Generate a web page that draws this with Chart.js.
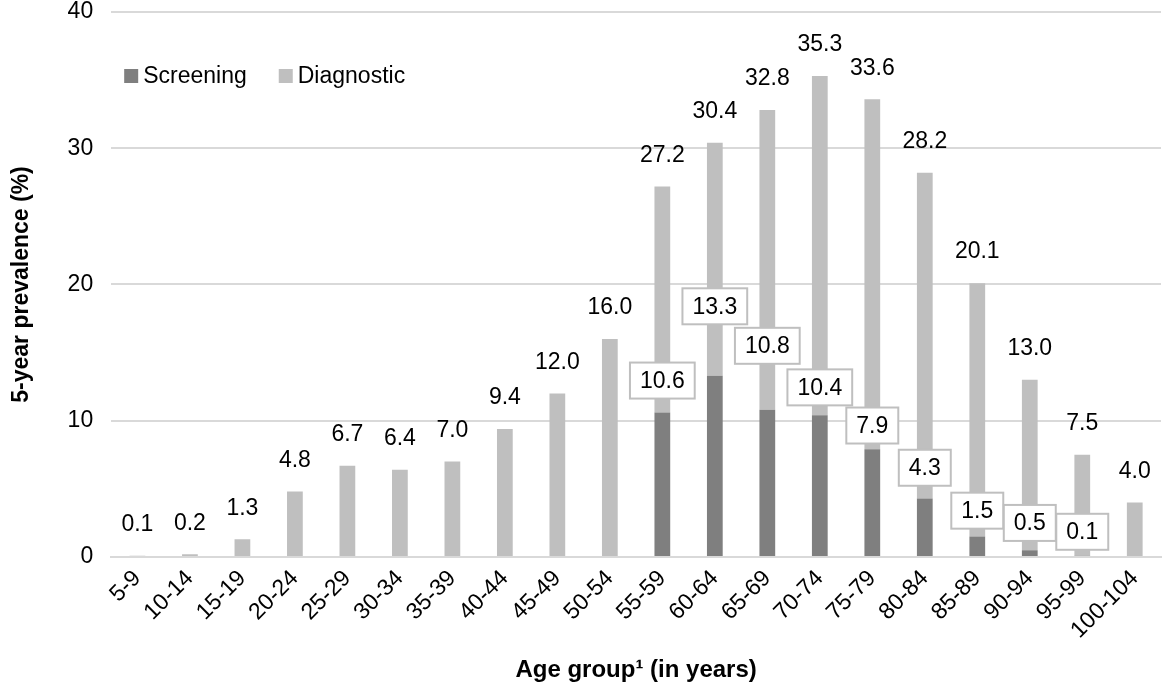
<!DOCTYPE html>
<html>
<head>
<meta charset="utf-8">
<script src="https://cdn.jsdelivr.net/npm/chart.js@4"></script>
<style>
  html, body { margin: 0; padding: 0; background: #fff; }
  #wrap { width: 1164px; height: 685px; }
</style>
</head>
<body>
<div id="wrap"><canvas id="chart" width="1164" height="685"></canvas></div>
<script>
const ageGroups = ["5-9", "10-14", "15-19", "20-24", "25-29", "30-34", "35-39", "40-44", "45-49", "50-54",
  "55-59", "60-64", "65-69", "70-74", "75-79", "80-84", "85-89", "90-94", "95-99", "100-104"];
const totalPrevalence = [0.1, 0.2, 1.3, 4.8, 6.7, 6.4, 7.0, 9.4, 12.0, 16.0,
  27.2, 30.4, 32.8, 35.3, 33.6, 28.2, 20.1, 13.0, 7.5, 4.0];
const screening = [0, 0, 0, 0, 0, 0, 0, 0, 0, 0,
  10.6, 13.3, 10.8, 10.4, 7.9, 4.3, 1.5, 0.5, 0.1, 0];
const diagnostic = totalPrevalence.map((t, i) => +(t - screening[i]).toFixed(1));
// where the boxed screening labels sit (in % units), as placed in the original
const screeningLabelAt = [null, null, null, null, null, null, null, null, null, null,
  12.95, 18.4, 15.5, 12.45, 9.65, 6.55, 3.4, 2.5, 1.85, null];

const FONT = "'Liberation Sans', Arial, sans-serif";

const labelPlugin = {
  id: "labels",
  afterDatasetsDraw(chart) {
    const ctx = chart.ctx;
    const y = chart.scales.y;
    const meta = chart.getDatasetMeta(1);
    ctx.save();
    ctx.font = "23px " + FONT;
    ctx.textAlign = "center";
    ctx.textBaseline = "middle";
    ctx.fillStyle = "#000";
    meta.data.forEach((bar, i) => {
      ctx.fillText(totalPrevalence[i].toFixed(1), bar.x, y.getPixelForValue(totalPrevalence[i]) - 31);
    });
    // boxed screening values
    meta.data.forEach((bar, i) => {
      if (screeningLabelAt[i] == null) return;
      const txt = screening[i].toFixed(1);
      const w = ctx.measureText(txt).width + 20;
      const h = 36;
      const cy = y.getPixelForValue(screeningLabelAt[i]);
      ctx.fillStyle = "#fff";
      ctx.fillRect(bar.x - w / 2, cy - h / 2, w, h);
      ctx.strokeStyle = "#bfbfbf";
      ctx.lineWidth = 2;
      ctx.strokeRect(bar.x - w / 2, cy - h / 2, w, h);
      ctx.fillStyle = "#000";
      ctx.fillText(txt, bar.x, cy + 1);
    });
    // legend inside plot area
    const ca = chart.chartArea;
    let lx = ca.left + 13;
    const ly = 76;
    ctx.textAlign = "left";
    chart.data.datasets.forEach(ds => {
      ctx.fillStyle = ds.backgroundColor;
      ctx.fillRect(lx, ly - 7, 14, 14);
      ctx.fillStyle = "#000";
      ctx.fillText(ds.label, lx + 19, ly + 1);
      lx += 19 + ctx.measureText(ds.label).width + 32;
    });
    ctx.restore();
  }
};

new Chart(document.getElementById("chart"), {
  type: "bar",
  data: {
    labels: ageGroups,
    datasets: [
      { label: "Screening", data: screening, backgroundColor: "#7f7f7f" },
      { label: "Diagnostic", data: diagnostic, backgroundColor: "#bfbfbf" }
    ]
  },
  options: {
    responsive: false,
    animation: false,
    layout: { padding: { top: 12, right: 3, left: 4, bottom: 0 } },
    datasets: { bar: { barPercentage: 0.3, categoryPercentage: 1 } },
    plugins: { legend: { display: false }, tooltip: { enabled: false } },
    scales: {
      x: {
        stacked: true,
        grid: { display: false, drawTicks: false },
        border: { color: "#d9d9d9", width: 2 },
        ticks: { color: "#000", font: { family: FONT, size: 23 }, minRotation: 45, maxRotation: 45, padding: 8 },
        title: { display: true, text: "Age group¹ (in years)", color: "#000",
          font: { family: FONT, size: 24, weight: "bold" }, padding: { top: 4, bottom: 0 } }
      },
      y: {
        stacked: true,
        min: 0, max: 40,
        afterFit(scale) { scale.paddingTop = 0; },
        ticks: { stepSize: 10, color: "#000", font: { family: FONT, size: 23 }, padding: 18 },
        grid: { color: "#d9d9d9", lineWidth: 2, drawTicks: false },
        border: { display: false },
        title: { display: true, text: "5-year prevalence (%)", color: "#000",
          font: { family: FONT, size: 23, weight: "bold" }, padding: { bottom: 14 } }
      }
    }
  },
  plugins: [labelPlugin]
});
</script>
</body>
</html>
